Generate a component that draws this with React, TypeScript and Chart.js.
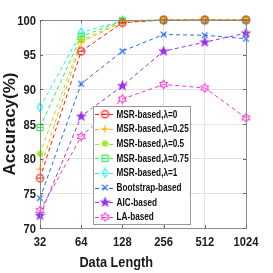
import React, { useEffect, useRef } from "react";
import { Chart, registerables } from "chart.js";

Chart.register(...registerables);

const dataLengths = ["32", "64", "128", "256", "512", "1024"];
const msr0 = [77.2, 95.5, 99.6, 100, 100, 100];
const msr025 = [78.5, 96.8, 99.7, 100, 100, 100];
const msr05 = [80.7, 97.1, 99.8, 100, 100, 100];
const msr075 = [84.5, 97.6, 99.9, 100, 100, 100];
const msr1 = [87.4, 98.2, 99.9, 100, 100, 100];
const bootstrap = [74.3, 90.8, 95.5, 97.9, 97.8, 97.3];
const aic = [71.8, 86.1, 90.5, 95.5, 96.8, 98.1];
const laBased = [72.5, 83.2, 88.6, 90.7, 90.2, 85.9];
const yTicks = [70, 75, 80, 85, 90, 95, 100];
const xTitle = "Data Length";
const yTitle = "Accuracy(%)";

const seriesNames = [
  "MSR-based,\u03bb=0",
  "MSR-based,\u03bb=0.25",
  "MSR-based,\u03bb=0.5",
  "MSR-based,\u03bb=0.75",
  "MSR-based,\u03bb=1",
  "Bootstrap-based",
  "AIC-based",
  "LA-based",
];
const seriesData = [msr0, msr025, msr05, msr075, msr1, bootstrap, aic, laBased];
const seriesColors = ["#ff1a1a", "#ffb000", "#99ee22", "#33ee55", "#22eeee", "#2a6cf0", "#9933ee", "#ff33cc"];
const seriesMarkers = ["circle", "plus", "asterisk", "square", "diamond", "x", "pentagram", "hexagram"];

function makeMarker(kind: string, color: string): HTMLCanvasElement {
  const s = 11;
  const c = document.createElement("canvas");
  c.width = s;
  c.height = s;
  const ctx = c.getContext("2d")!;
  const cx = s / 2, cy = s / 2;
  ctx.strokeStyle = color;
  ctx.fillStyle = color;
  ctx.lineWidth = 1.1;
  const r = 3.6;
  ctx.beginPath();
  if (kind === "circle") {
    ctx.arc(cx, cy, r, 0, Math.PI * 2);
    ctx.moveTo(cx - r, cy);
    ctx.lineTo(cx + r, cy);
    ctx.stroke();
  } else if (kind === "plus") {
    ctx.moveTo(cx - r - 0.5, cy); ctx.lineTo(cx + r + 0.5, cy);
    ctx.moveTo(cx, cy - r - 0.5); ctx.lineTo(cx, cy + r + 0.5);
    ctx.stroke();
  } else if (kind === "asterisk") {
    for (let i = 0; i < 4; i++) {
      const a = (i * Math.PI) / 4;
      ctx.moveTo(cx - r * Math.cos(a), cy - r * Math.sin(a));
      ctx.lineTo(cx + r * Math.cos(a), cy + r * Math.sin(a));
    }
    ctx.lineWidth = 1.6;
    ctx.stroke();
  } else if (kind === "square") {
    ctx.rect(cx - r + 0.5, cy - r + 0.5, 2 * r - 1, 2 * r - 1);
    ctx.moveTo(cx - r + 0.5, cy);
    ctx.lineTo(cx + r - 0.5, cy);
    ctx.stroke();
  } else if (kind === "diamond") {
    ctx.moveTo(cx, cy - r - 0.8);
    ctx.lineTo(cx + r - 0.8, cy);
    ctx.lineTo(cx, cy + r + 0.8);
    ctx.lineTo(cx - r + 0.8, cy);
    ctx.closePath();
    ctx.stroke();
  } else if (kind === "x") {
    const d = r * 0.8;
    ctx.moveTo(cx - d, cy - d); ctx.lineTo(cx + d, cy + d);
    ctx.moveTo(cx + d, cy - d); ctx.lineTo(cx - d, cy + d);
    ctx.lineWidth = 1.4;
    ctx.stroke();
  } else if (kind === "pentagram") {
    for (let i = 0; i < 10; i++) {
      const a = -Math.PI / 2 + (i * Math.PI) / 5;
      const rr = i % 2 === 0 ? r + 0.8 : (r + 0.8) * 0.42;
      const px = cx + rr * Math.cos(a), py = cy + rr * Math.sin(a);
      if (i === 0) ctx.moveTo(px, py); else ctx.lineTo(px, py);
    }
    ctx.closePath();
    ctx.fill();
    ctx.stroke();
  } else if (kind === "hexagram") {
    for (let i = 0; i < 12; i++) {
      const a = -Math.PI / 2 + (i * Math.PI) / 6;
      const rr = i % 2 === 0 ? r + 0.6 : (r + 0.6) * 0.6;
      const px = cx + rr * Math.cos(a), py = cy + rr * Math.sin(a);
      if (i === 0) ctx.moveTo(px, py); else ctx.lineTo(px, py);
    }
    ctx.closePath();
    ctx.stroke();
  }
  return c;
}

const FONT = "'Liberation Sans', Arial, Helvetica, sans-serif";

function drawText(
  ctx: CanvasRenderingContext2D,
  text: string,
  x: number,
  y: number,
  font: string,
  sx: number,
  align: CanvasTextAlign,
  baseline: CanvasTextBaseline,
  color: string,
  rot = 0
) {
  ctx.save();
  ctx.translate(x, y);
  if (rot) ctx.rotate(rot);
  ctx.scale(sx, 1);
  ctx.font = font;
  ctx.textAlign = align;
  ctx.textBaseline = baseline;
  ctx.fillStyle = color;
  ctx.fillText(text, 0, 0);
  ctx.restore();
}

export default function App() {
  const ref = useRef<HTMLCanvasElement | null>(null);
  useEffect(() => {
    if (!ref.current) return;
    const markers = seriesMarkers.map((m, i) => makeMarker(m, seriesColors[i]));

    const framePlugin = {
      id: "frameAndLegend",
      afterDraw(chart: any) {
        const ctx = chart.ctx as CanvasRenderingContext2D;
        const a = chart.chartArea;
        const xs = chart.scales.x;
        const ys = chart.scales.y;
        const w = a.right - a.left;
        const h = a.bottom - a.top;
        ctx.save();
        // frame
        ctx.strokeStyle = "#8c8c8c";
        ctx.lineWidth = 1;
        ctx.strokeRect(Math.round(a.left) + 0.5, Math.round(a.top) + 0.5, Math.round(w), Math.round(h));
        // inward ticks
        ctx.strokeStyle = "#666";
        ctx.beginPath();
        dataLengths.forEach((_, i) => {
          const x = Math.round(xs.getPixelForValue(i)) + 0.5;
          ctx.moveTo(x, a.bottom); ctx.lineTo(x, a.bottom - 3);
          ctx.moveTo(x, a.top); ctx.lineTo(x, a.top + 3);
        });
        yTicks.forEach((v) => {
          const y = Math.round(ys.getPixelForValue(v)) + 0.5;
          ctx.moveTo(a.left, y); ctx.lineTo(a.left + 3, y);
          ctx.moveTo(a.right, y); ctx.lineTo(a.right - 3, y);
        });
        ctx.stroke();

        // tick labels
        const tickFont = "bold 13px " + FONT;
        dataLengths.forEach((lab, i) => {
          drawText(ctx, lab, xs.getPixelForValue(i), a.bottom + 14, tickFont, 0.86, "center", "middle", "#1a1a1a");
        });
        yTicks.forEach((v) => {
          drawText(ctx, String(v), a.left - 4, ys.getPixelForValue(v) + 1, tickFont, 0.86, "right", "middle", "#1a1a1a");
        });
        // axis titles
        drawText(ctx, xTitle, a.left + w * 0.37, a.bottom + 39, "bold 14px " + FONT, 0.91, "center", "alphabetic", "#1a1a1a");
        drawText(ctx, yTitle, a.left - 25, a.top + h * 0.5, "bold 17px " + FONT, 1.0, "center", "alphabetic", "#1a1a1a", -Math.PI / 2);

        // legend
        const bx = a.left + w * 0.255;
        const by = a.top + h * 0.415;
        const bw = w * 0.47;
        const bh = h * 0.565;
        ctx.fillStyle = "#ffffff";
        ctx.fillRect(bx, by, bw, bh);
        ctx.strokeStyle = "#9a9a9a";
        ctx.lineWidth = 1;
        ctx.strokeRect(Math.round(bx) + 0.5, Math.round(by) + 0.5, Math.round(bw), Math.round(bh));
        const rowH = bh / seriesNames.length;
        seriesNames.forEach((name, i) => {
          const cy = by + rowH * (i + 0.5) + 0.5;
          ctx.strokeStyle = seriesColors[i];
          ctx.setLineDash([4, 3]);
          ctx.lineWidth = 1;
          ctx.beginPath();
          ctx.moveTo(bx + 2.5, Math.round(cy) + 0.5);
          ctx.lineTo(bx + 22, Math.round(cy) + 0.5);
          ctx.stroke();
          ctx.setLineDash([]);
          ctx.drawImage(markers[i], bx + 12.5 - 5.5, cy - 5.5);
          drawText(ctx, name, bx + 24, cy + 0.5, "bold 10.5px " + FONT, 0.78, "left", "middle", "#111");
        });
        ctx.restore();
      },
    };

    const chart = new Chart(ref.current, {
      type: "line",
      data: {
        labels: dataLengths,
        datasets: seriesNames.map((name, i) => ({
          label: name,
          data: seriesData[i],
          borderColor: seriesColors[i],
          backgroundColor: seriesColors[i],
          borderWidth: 1,
          borderDash: [4, 3],
          pointStyle: markers[i] as any,
          pointRadius: 5,
          tension: 0,
          fill: false,
          clip: false as any,
        })),
      },
      options: {
        animation: false,
        responsive: false,
        maintainAspectRatio: false,
        layout: { padding: { top: 20, right: 27, left: 0, bottom: 0 } },
        plugins: { legend: { display: false }, tooltip: { enabled: false } },
        scales: {
          x: {
            type: "category",
            offset: false,
            grid: { color: "#e4e4e4", drawTicks: false },
            border: { display: false },
            ticks: { display: false, autoSkip: false },
            title: { display: false, text: xTitle },
            afterFit: (s: any) => { s.height = 45; },
          },
          y: {
            min: 70,
            max: 100,
            grid: { color: "#e4e4e4", drawTicks: false },
            border: { display: false },
            ticks: { display: false, stepSize: 5 },
            title: { display: false, text: yTitle },
            afterFit: (s: any) => { s.width = 40; },
          },
        },
      },
      plugins: [framePlugin],
    });
    return () => chart.destroy();
  }, []);
  return (
    <div style={{ position: "fixed", left: 0, top: 0, width: 273, height: 273, background: "#fff" }}>
      <canvas ref={ref} width={273} height={273} style={{ width: 273, height: 273, display: "block" }} />
    </div>
  );
}
